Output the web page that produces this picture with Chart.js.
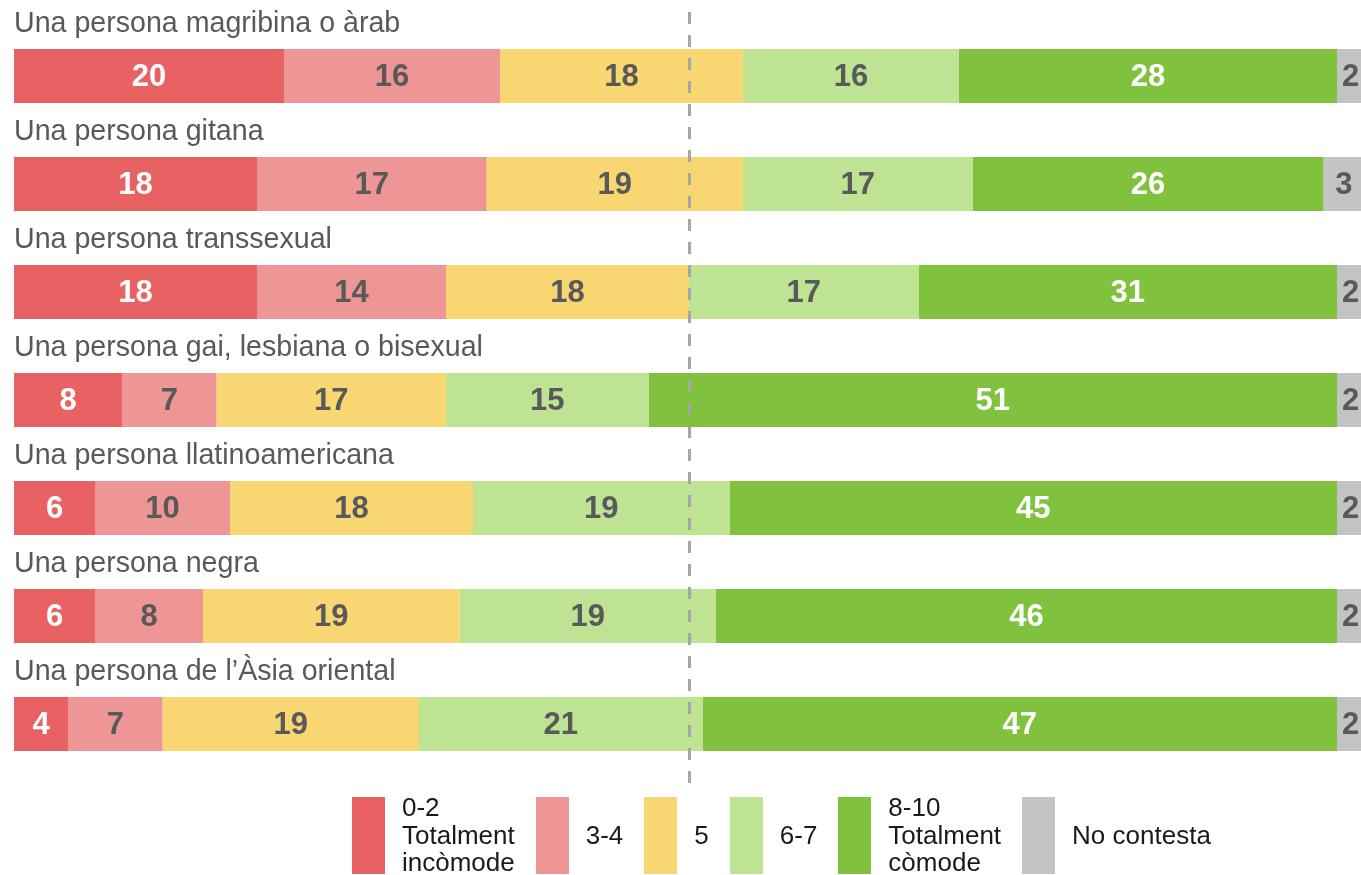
<!DOCTYPE html>
<html>
<head>
<meta charset="utf-8">
<script src="https://cdn.jsdelivr.net/npm/chart.js@4/dist/chart.umd.min.js"></script>
<style>
  html, body { margin: 0; padding: 0; background: #fff; overflow: hidden; }
  #wrap { position: absolute; left: 0; top: 0; width: 1380px; height: 795px; }
  #legend {
    position: absolute; left: 352px; top: 794px;
    display: flex;
    font-family: "Liberation Sans", Arial, sans-serif; font-size: 26px; line-height: 27.5px; color: #1a1a1a;
  }
  .item { display: flex; align-items: center; height: 83px; margin-right: 21px; }
  .box { width: 33px; height: 77px; margin-right: 17px; }
  .txt { white-space: pre; }
</style>
</head>
<body>
<div id="wrap"><canvas id="chartComodidad"></canvas></div>
<div id="legend"></div>
<script>
// Dades (percentatges)
const categories = [
    'Una persona magribina o àrab',
    'Una persona gitana',
    'Una persona transsexual',
    'Una persona gai, lesbiana o bisexual',
    'Una persona llatinoamericana',
    'Una persona negra',
    'Una persona de l’Àsia oriental'
];
const v0a2   = [20, 18, 18, 8, 6, 6, 4];
const v3a4   = [16, 17, 14, 7, 10, 8, 7];
const v5     = [18, 19, 18, 17, 18, 19, 19];
const v6a7   = [16, 17, 17, 15, 19, 19, 21];
const v8a10  = [28, 26, 31, 51, 45, 46, 47];
const vNoCon = [2, 3, 2, 2, 2, 2, 2];

const seriesLabels = ['0-2\nTotalment\nincòmode', '3-4', '5', '6-7', '8-10\nTotalment\ncòmode', 'No contesta'];
const colors = ['#E86163', '#EE9595', '#F8D672', '#BDE393', '#80C23E', '#C4C4C4'];
const labelColors = ['#ffffff', '#595959', '#595959', '#595959', '#ffffff', '#595959'];
const seriesValues = [v0a2, v3a4, v5, v6a7, v8a10, vNoCon];

const FONT = '"Liberation Sans", Arial, sans-serif';

// etiquetes de categoria, valors i línia discontínua al 50%
const extrasPlugin = {
    id: 'extras',
    afterDatasetsDraw(chart) {
        const ctx = chart.ctx;
        ctx.save();
        // valors dins de les barres
        ctx.font = 'bold 31px ' + FONT;
        ctx.textAlign = 'center';
        ctx.textBaseline = 'middle';
        chart.data.datasets.forEach((ds, di) => {
            const meta = chart.getDatasetMeta(di);
            meta.data.forEach((bar, i) => {
                ctx.fillStyle = labelColors[di];
                ctx.fillText(ds.data[i], (bar.x + bar.base) / 2, bar.y + 1);
            });
        });
        // títols de categoria sobre cada barra
        const first = chart.getDatasetMeta(0);
        ctx.font = '28.6px ' + FONT;
        ctx.textAlign = 'left';
        ctx.textBaseline = 'alphabetic';
        ctx.fillStyle = '#595959';
        first.data.forEach((bar, i) => {
            ctx.fillText(categories[i], chart.chartArea.left, bar.y - bar.height / 2 - 17);
        });
        // línia discontínua
        const x = Math.round(chart.scales.x.getPixelForValue(50)) + 0.5;
        ctx.strokeStyle = '#A6A6A6';
        ctx.lineWidth = 3;
        ctx.setLineDash([12, 11]);
        ctx.beginPath();
        ctx.moveTo(x, chart.chartArea.top - 10);
        ctx.lineTo(x, chart.chartArea.bottom + 12);
        ctx.stroke();
        ctx.restore();
    }
};

const ctxComodidad = document.getElementById('chartComodidad');
new Chart(ctxComodidad, {
    type: 'bar',
    data: {
        labels: categories,
        datasets: seriesValues.map((vals, i) => ({
            label: seriesLabels[i],
            data: vals,
            backgroundColor: colors[i],
            borderWidth: 0,
            barPercentage: 0.5,
            categoryPercentage: 1.0
        }))
    },
    options: {
        indexAxis: 'y',
        responsive: true,
        maintainAspectRatio: false,
        animation: false,
        layout: { padding: { left: 14, right: 16, top: 22, bottom: 17 } },
        plugins: {
            legend: { display: false },
            tooltip: { enabled: false }
        },
        scales: {
            x: { stacked: true, min: 0, max: 100, display: false },
            y: { stacked: true, display: false }
        }
    },
    plugins: [extrasPlugin]
});

// llegenda
const legendEl = document.getElementById('legend');
seriesLabels.forEach((lab, i) => {
    const item = document.createElement('div');
    item.className = 'item';
    const box = document.createElement('div');
    box.className = 'box';
    box.style.background = colors[i];
    const txt = document.createElement('div');
    txt.className = 'txt';
    txt.textContent = lab;
    item.appendChild(box);
    item.appendChild(txt);
    legendEl.appendChild(item);
});
</script>
</body>
</html>
